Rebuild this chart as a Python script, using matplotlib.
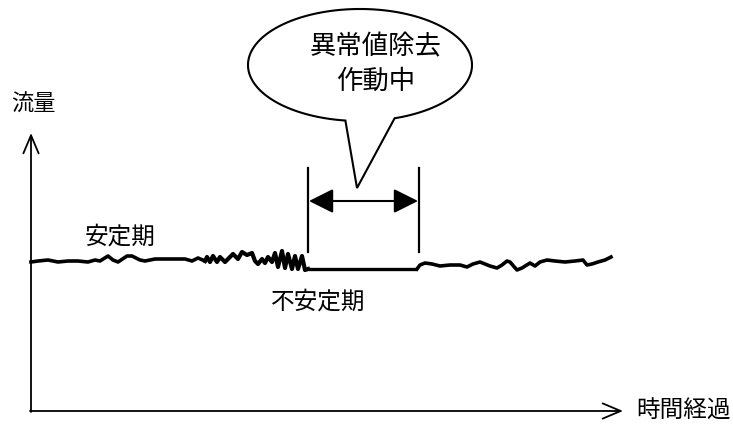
import numpy as np
import matplotlib.pyplot as plt
from matplotlib.patches import Polygon, FancyArrowPatch

plt.rcParams['font.family'] = ['Noto Sans CJK JP', 'DejaVu Sans']

# flow trace (pixel coords, y grows downward)
stable_x = [31, 38, 48, 53, 58, 68, 78, 88, 95, 100, 108, 113, 118, 127, 132,
            140, 145, 155, 165, 175, 185, 192, 198, 205]
stable_y = [262, 261, 260, 261, 262, 261, 261, 262, 260, 261, 256, 260, 262,
            256, 256, 260, 261, 259, 259, 259, 259, 261, 258, 261]
unstable_x = [205, 207, 210, 213, 217, 220, 225, 228, 233, 238, 242, 247, 252,
              255, 258, 262, 265, 268, 272, 275, 278, 282, 285, 288, 292, 295,
              298, 302, 305, 308]
unstable_y = [261, 257, 262, 256, 262, 257, 262, 259, 254, 259, 252, 255, 253,
              261, 264, 259, 263, 257, 262, 253, 267, 251, 268, 254, 269, 256,
              269, 256, 270, 269]
removed_x = [308, 417]
removed_y = [269, 269]
recover_x = [417, 420, 425, 432, 440, 450, 460, 467, 473, 480, 490, 497, 502,
             507, 510, 517, 522, 530, 535, 540, 547, 555, 565, 575, 583, 587,
             592, 598, 605, 611]
recover_y = [269, 265, 263, 264, 266, 265, 265, 267, 264, 262, 266, 268, 265,
             261, 262, 270, 268, 263, 266, 262, 260, 261, 262, 261, 260, 265,
             264, 262, 260, 257]

fig = plt.figure(figsize=(7.33, 4.25), dpi=100)
ax = fig.add_axes([0, 0, 1, 1])
ax.set_xlim(0, 733)
ax.set_ylim(425, 0)
ax.axis('off')

# axes with open arrowheads
ax.annotate('', xy=(31, 133), xytext=(31, 412),
            arrowprops=dict(arrowstyle='->,head_length=1.3,head_width=0.55',
                            lw=1.3, color='black', shrinkA=0, shrinkB=0))
ax.annotate('', xy=(623, 411), xytext=(30, 411),
            arrowprops=dict(arrowstyle='->,head_length=1.3,head_width=0.55',
                            lw=1.3, color='black', shrinkA=0, shrinkB=0))

# flow line
ax.plot(stable_x, stable_y, color='black', lw=2.6, solid_joinstyle='round')
ax.plot(unstable_x, unstable_y, color='black', lw=3.0, solid_joinstyle='round')
ax.plot(removed_x, removed_y, color='black', lw=2.4, solid_capstyle='butt')
ax.plot(recover_x, recover_y, color='black', lw=2.6, solid_joinstyle='round')

# bracket showing the removal period
ax.plot([308, 308], [168, 252], color='black', lw=1.6)
ax.plot([419, 419], [168, 252], color='black', lw=1.6)
ax.add_patch(FancyArrowPatch((309, 201), (418, 201),
                             arrowstyle='<|-|>,head_length=10,head_width=5',
                             lw=1.5, color='black', shrinkA=0, shrinkB=0,
                             mutation_scale=1.5))

# speech bubble
cx, cy, a, b = 360, 65, 112, 56
t = np.radians(np.linspace(97.5, 360 + 72, 300))
pts = np.column_stack([cx + a * np.cos(t), cy + b * np.sin(t)])
pts = np.vstack([pts, [[357, 188]]])
ax.add_patch(Polygon(pts, closed=True, facecolor='white', edgecolor='black',
                     lw=1.5, joinstyle='miter'))
ax.text(376, 47, '異常値除去', fontsize=19, ha='center', va='center')
ax.text(376, 81, '作動中', fontsize=19, ha='center', va='center')

ax.text(120, 237, '安定期', fontsize=17, ha='center', va='center')
ax.text(318, 302, '不安定期', fontsize=17, ha='center', va='center')
ax.text(33, 104, '流量', fontsize=16, ha='center', va='center')
ax.text(683, 411, '時間経過', fontsize=17, ha='center', va='center')

fig.savefig('out.png', dpi=100)
